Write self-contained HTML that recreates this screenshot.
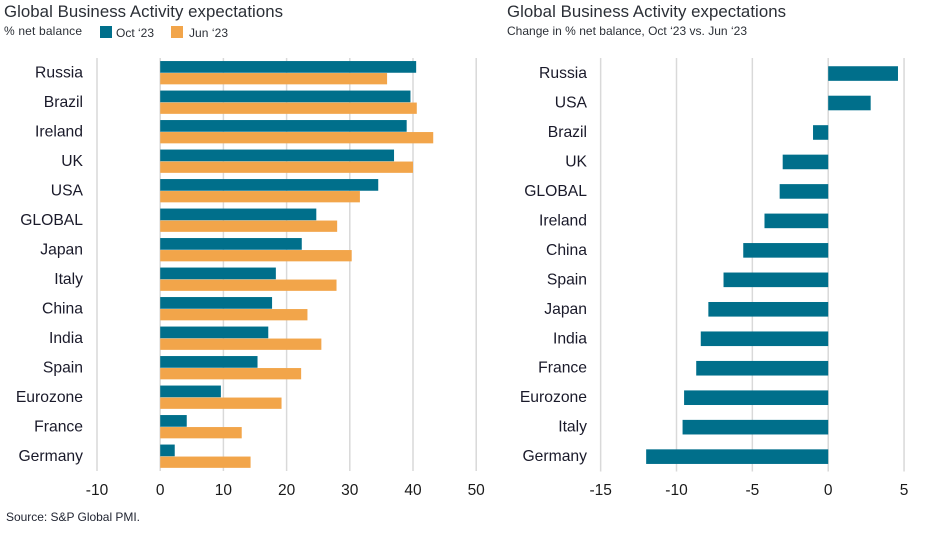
<!DOCTYPE html>
<html lang="en">
<head>
<meta charset="utf-8">
<title>Global Business Activity expectations</title>
<style>
html,body{margin:0;padding:0;background:#fff;width:951px;height:535px;overflow:hidden}
svg{display:block}
text{font-family:"Liberation Sans",sans-serif}
</style>
</head>
<body>
<svg id="chart" width="951" height="535" viewBox="0 0 951 535" xmlns="http://www.w3.org/2000/svg">
  <rect x="0" y="0" width="951" height="535" fill="#ffffff"/>
  <text x="4" y="17" font-size="16.8" fill="#2b2f36" textLength="279" lengthAdjust="spacing">Global Business Activity expectations</text>
  <text x="4" y="35" font-size="12" fill="#2b2f36" textLength="78" lengthAdjust="spacing">% net balance</text>
  <rect x="100" y="26" width="12" height="12" fill="#006f8b"/>
  <text x="116" y="37" font-size="12" fill="#2b2f36" textLength="38" lengthAdjust="spacing">Oct ‘23</text>
  <rect x="171" y="26" width="12" height="12" fill="#f2a54a"/>
  <text x="189" y="37" font-size="12" fill="#2b2f36" textLength="39" lengthAdjust="spacing">Jun ‘23</text>
  <text x="507" y="17" font-size="16.8" fill="#2b2f36" textLength="279" lengthAdjust="spacing">Global Business Activity expectations</text>
  <text x="507" y="35" font-size="12" fill="#2b2f36" textLength="240" lengthAdjust="spacing">Change in % net balance, Oct ‘23 vs. Jun ‘23</text>
  <text x="6" y="521" font-size="12" fill="#1f2330" textLength="134" lengthAdjust="spacing">Source: S&amp;P Global PMI.</text>
  <g id="left-plot"></g>
  <g id="right-plot"></g>
</svg>
<script>
const leftCategories = ['Russia','Brazil','Ireland','UK','USA','GLOBAL','Japan','Italy','China','India','Spain','Eurozone','France','Germany'];
const oct23Values = [40.5,39.6,39.0,37.0,34.5,24.7,22.4,18.3,17.7,17.1,15.4,9.6,4.2,2.3];
const jun23Values = [35.9,40.6,43.2,40.0,31.6,28.0,30.3,27.9,23.3,25.5,22.3,19.2,12.9,14.3];
const leftTicks = [-10,0,10,20,30,40,50];

const rightCategories = ['Russia','USA','Brazil','UK','GLOBAL','Ireland','China','Spain','Japan','India','France','Eurozone','Italy','Germany'];
const changeValues = [4.6,2.8,-1.0,-3.0,-3.2,-4.2,-5.6,-6.9,-7.9,-8.4,-8.7,-9.5,-9.6,-12.0];
const rightTicks = [-15,-10,-5,0,5];

const NS = 'http://www.w3.org/2000/svg';
const TEAL = '#006f8b';
const ORANGE = '#f2a54a';
const GRID = '#d9d9d9';

function make(tag, attrs, parent, text) {
  const el = document.createElementNS(NS, tag);
  for (const k in attrs) el.setAttribute(k, attrs[k]);
  if (text !== undefined) el.textContent = text;
  parent.appendChild(el);
  return el;
}

const leftX = v => 160.2 + v * 6.32;
const leftY = i => 58 + 29.5 * (i + 0.5);
const rightX = v => 828.2 + v * 15.17;
const rightY = i => 58.8 + 29.47 * (i + 0.5);

function drawAxis(group, ticks, xFn, top, bottom, labelY) {
  ticks.forEach(t => {
    const line = make('line', {x1:xFn(t), x2:xFn(t), y1:top, y2:bottom, stroke:GRID, 'stroke-width':1.5}, group);
    
    
    const label = make('text', {x:xFn(t), y:labelY, 'text-anchor':'middle', 'font-size':15.5, fill:'#1a1a1a'}, group, String(t));
    
    
  });
}

function drawCategories(group, categories, yFn, x) {
  categories.forEach((c, i) => {
    const label = make('text', {x:x, y:yFn(i) + 4.5, 'text-anchor':'end', 'font-size':15.7, fill:'#1a1a2a'}, group, c);
    
    
  });
}

function hBar(group, xFn, v, y, h, fill) {
  const x0 = Math.min(xFn(0), xFn(v));
  const w = Math.abs(xFn(v) - xFn(0));
  return make('rect', {x:x0, y:y, width:w, height:h, fill:fill}, group);
}

const leftGroup = document.getElementById('left-plot');
drawAxis(leftGroup, leftTicks, leftX, 58, 471, 495);
drawCategories(leftGroup, leftCategories, leftY, 83);
leftCategories.forEach((c, i) => {
  const a = hBar(leftGroup, leftX, oct23Values[i], leftY(i) - 11.7, 11.7, TEAL);
  
  
  const b = hBar(leftGroup, leftX, jun23Values[i], leftY(i) + 0.3, 11.3, ORANGE);
  
  
});

const rightGroup = document.getElementById('right-plot');
drawAxis(rightGroup, rightTicks, rightX, 58, 471.5, 495);
drawCategories(rightGroup, rightCategories, rightY, 587);
rightCategories.forEach((c, i) => {
  const r = hBar(rightGroup, rightX, changeValues[i], rightY(i) - 7.3, 14.6, TEAL);
  
  
});
</script>
</body>
</html>
